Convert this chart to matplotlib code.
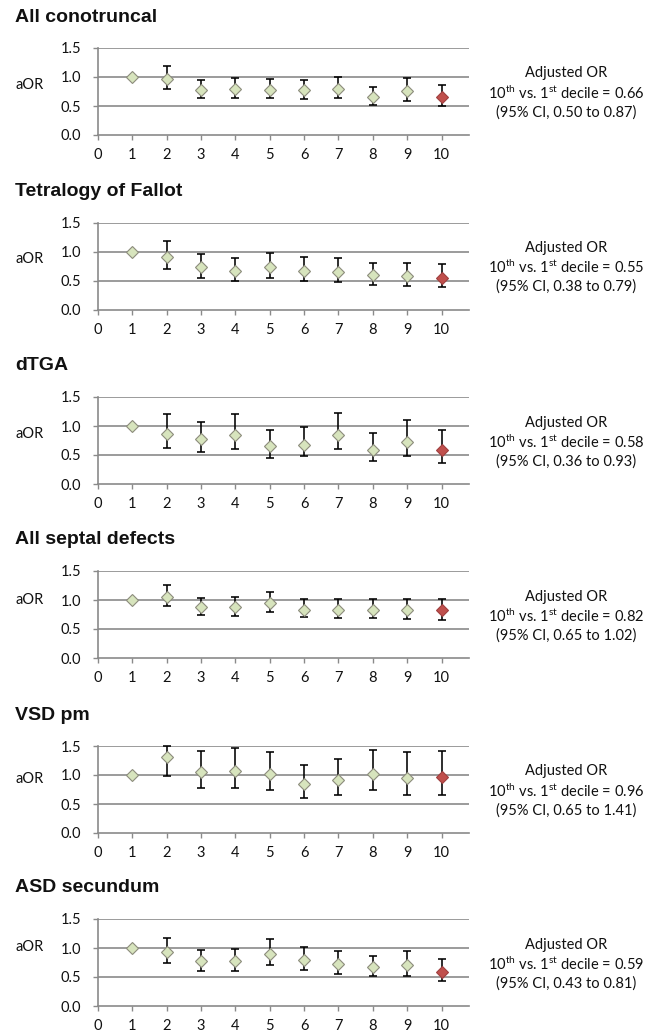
import matplotlib
matplotlib.use("Agg")
import matplotlib.pyplot as plt
import numpy as np

titles = ["All conotruncal", "Tetralogy of Fallot", "dTGA",
          "All septal defects", "VSD pm", "ASD secundum"]
deciles = [1, 2, 3, 4, 5, 6, 7, 8, 9, 10]

aor = [
    [1.00, 0.97, 0.78, 0.79, 0.78, 0.77, 0.80, 0.655, 0.76, 0.66],
    [1.00, 0.90, 0.73, 0.67, 0.73, 0.67, 0.645, 0.59, 0.575, 0.55],
    [1.00, 0.86, 0.77, 0.85, 0.65, 0.68, 0.85, 0.59, 0.73, 0.58],
    [1.00, 1.06, 0.876, 0.876, 0.956, 0.835, 0.835, 0.835, 0.83, 0.82],
    [1.00, 1.31, 1.06, 1.07, 1.02, 0.84, 0.91, 1.02, 0.95, 0.96],
    [1.00, 0.93, 0.77, 0.77, 0.90, 0.80, 0.73, 0.67, 0.71, 0.59],
]
ci_low = [
    [1.00, 0.79, 0.63, 0.64, 0.63, 0.615, 0.64, 0.51, 0.58, 0.50],
    [1.00, 0.69, 0.55, 0.49, 0.54, 0.50, 0.47, 0.43, 0.40, 0.38],
    [1.00, 0.62, 0.55, 0.595, 0.45, 0.475, 0.595, 0.40, 0.48, 0.36],
    [1.00, 0.89, 0.744, 0.73, 0.795, 0.70, 0.69, 0.69, 0.665, 0.65],
    [1.00, 0.98, 0.78, 0.78, 0.74, 0.60, 0.65, 0.74, 0.66, 0.65],
    [1.00, 0.74, 0.60, 0.595, 0.705, 0.625, 0.56, 0.515, 0.52, 0.43],
]
ci_high = [
    [1.00, 1.19, 0.95, 0.99, 0.97, 0.955, 1.00, 0.82, 0.98, 0.87],
    [1.00, 1.18, 0.95, 0.895, 0.97, 0.90, 0.88, 0.80, 0.80, 0.79],
    [1.00, 1.20, 1.065, 1.20, 0.93, 0.99, 1.225, 0.875, 1.10, 0.93],
    [1.00, 1.26, 1.04, 1.05, 1.145, 1.02, 1.01, 1.01, 1.02, 1.02],
    [1.00, 1.50, 1.42, 1.46, 1.40, 1.17, 1.28, 1.43, 1.39, 1.41],
    [1.00, 1.18, 0.97, 0.98, 1.16, 1.01, 0.955, 0.87, 0.955, 0.81],
]
summary_or = ["0.66", "0.55", "0.58", "0.82", "0.96", "0.59"]
summary_ci = [("0.50", "0.87"), ("0.38", "0.79"), ("0.36", "0.93"),
              ("0.65", "1.02"), ("0.65", "1.41"), ("0.43", "0.81")]
yticks = [0.0, 0.5, 1.0, 1.5]
xticks = [0, 1, 2, 3, 4, 5, 6, 7, 8, 9, 10]

# layout (pixels)
W, H = 649, 1033
panel_top = [48, 222.5, 397, 571, 746, 919]
aor_label_frac = [0.575, 0.58, 0.575, 0.667, 0.616, 0.68]
ax_h = 87
ax_left = 98
ax_w = 371

plt.rcParams['mathtext.fontset'] = 'custom'
plt.rcParams['mathtext.rm'] = 'Lato'
plt.rcParams['mathtext.it'] = 'Lato'
plt.rcParams['mathtext.bf'] = 'Lato'

fig = plt.figure(figsize=(W / 100, H / 100), dpi=100)
fig.patch.set_facecolor('white')

grid_c = '#8a8a8a'
fill_c = '#d7e4bd'
edge_c = '#8c8c7c'
red_c = '#c0504d'
tick_font = dict(family=['Lato', 'DejaVu Sans'], size=10.5)

for i in range(6):
    top = panel_top[i]
    rect = [ax_left / W, 1 - (top + ax_h) / H, ax_w / W, ax_h / H]
    ax = fig.add_axes(rect)
    x = np.array(deciles)
    y = np.array(aor[i])
    lo = np.array(ci_low[i])
    hi = np.array(ci_high[i])
    # error bars (skip reference decile 1)
    ax.errorbar(x[1:], y[1:], yerr=[y[1:] - lo[1:], hi[1:] - y[1:]],
                fmt='none', ecolor='black', elinewidth=1.15, capsize=2.8,
                capthick=1.15, zorder=3, clip_on=False)
    ax.plot(x[:-1], y[:-1], linestyle='none', marker='D', markersize=5.8,
            markerfacecolor=fill_c, markeredgecolor=edge_c,
            markeredgewidth=0.8, zorder=4, clip_on=False)
    ax.plot(x[-1:], y[-1:], linestyle='none', marker='D', markersize=5.8,
            markerfacecolor=red_c, markeredgecolor='#a04040',
            markeredgewidth=0.8, zorder=4, clip_on=False)
    ax.set_xlim(0, 10.8)
    ax.set_ylim(0, 1.5)
    ax.set_yticks(yticks)
    ax.set_yticklabels([f"{v:.1f}" for v in yticks], **tick_font)
    ax.set_xticks(xticks)
    ax.set_xticklabels([str(v) for v in xticks], **tick_font)
    for v in yticks[1:]:
        ax.axhline(v, color=grid_c, lw=1.2, zorder=1)
    for s in ['top', 'right']:
        ax.spines[s].set_visible(False)
    for s in ['left', 'bottom']:
        ax.spines[s].set_color(grid_c)
        ax.spines[s].set_linewidth(1.2)
    ax.tick_params(axis='both', direction='out', length=3.5, width=1.0,
                   color=grid_c, labelcolor='#111111')
    ax.tick_params(axis='y', pad=8.5)
    ax.tick_params(axis='x', pad=6.0)
    ax.set_facecolor('none')

    # title
    fig.text(15 / W, 1 - (top - 31) / H, titles[i], ha='left', va='center',
             family=['Liberation Sans', 'DejaVu Sans'], weight='bold',
             size=14, color='#111111')
    # aOR label
    fig.text(29.5 / W, 1 - (top + ax_h * (1 - aor_label_frac[i])) / H, 'aOR',
             ha='center', va='center', family=['Lato', 'DejaVu Sans'],
             size=10.5, color='#111111')
    # summary text
    cx = 566 / W
    mid = top + ax_h - 42
    lines = ["Adjusted OR",
             r"10$^{\mathrm{th}}$ vs. 1$^{\mathrm{st}}$ decile = " + summary_or[i],
             f"(95% CI, {summary_ci[i][0]} to {summary_ci[i][1]})"]
    for k, txt in enumerate(lines):
        fig.text(cx, 1 - (mid + (k - 1) * 19.5) / H, txt, ha='center',
                 va='center', family=['Lato', 'DejaVu Sans'], size=10.5,
                 color='#111111')

fig.savefig('out.png', dpi=100, facecolor='white')
